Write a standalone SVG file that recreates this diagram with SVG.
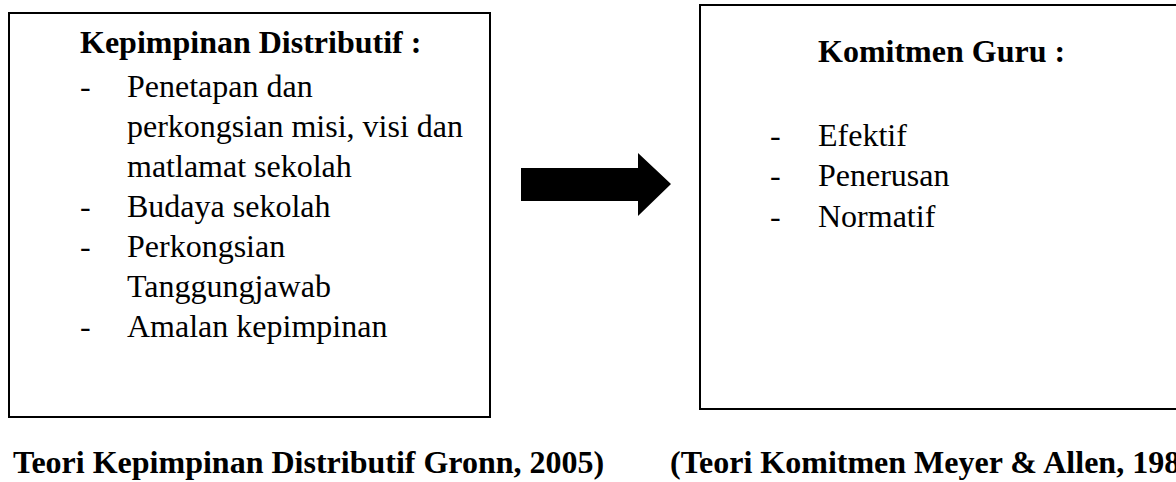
<svg xmlns="http://www.w3.org/2000/svg" width="1176" height="482" viewBox="0 0 1176 482">
<style>
.box{fill:#fff;stroke:#000;stroke-width:2}
.t{font-family:"Liberation Serif","Times New Roman",serif;font-size:32px;fill:#000}
.b{font-weight:bold}
</style>
<rect width="1176" height="482" fill="#fff"/>
<g id="node-kepimpinan">
<rect class="box" x="9" y="13" width="481" height="404"/>
<text class="t b" x="80" y="53">Kepimpinan Distributif :</text>
<text class="t" x="80" y="97">-</text><text class="t" x="127" y="97">Penetapan dan</text>
<text class="t" x="127" y="137">perkongsian misi, visi dan</text>
<text class="t" x="127" y="177">matlamat sekolah</text>
<text class="t" x="80" y="217">-</text><text class="t" x="127" y="217">Budaya sekolah</text>
<text class="t" x="80" y="257">-</text><text class="t" x="127" y="257">Perkongsian</text>
<text class="t" x="127" y="297">Tanggungjawab</text>
<text class="t" x="80" y="337">-</text><text class="t" x="127" y="337">Amalan kepimpinan</text>
</g>
<g id="node-komitmen">
<rect class="box" x="700" y="5" width="490" height="404"/>
<text class="t b" x="818" y="62">Komitmen Guru :</text>
<text class="t" x="770" y="146">-</text><text class="t" x="818" y="146">Efektif</text>
<text class="t" x="770" y="186">-</text><text class="t" x="818" y="186">Penerusan</text>
<text class="t" x="770" y="227">-</text><text class="t" x="818" y="227">Normatif</text>
</g>
<g id="connectors">
<polygon points="521,168 638,168 638,153 671,184 638,216 638,201 521,201" fill="#000"/>
</g>
<g id="captions">
<text class="t b" x="13" y="473">Teori Kepimpinan Distributif Gronn, 2005)</text>
<text class="t b" x="670" y="473">(Teori Komitmen Meyer &amp; Allen, 198</text>
</g>
</svg>
